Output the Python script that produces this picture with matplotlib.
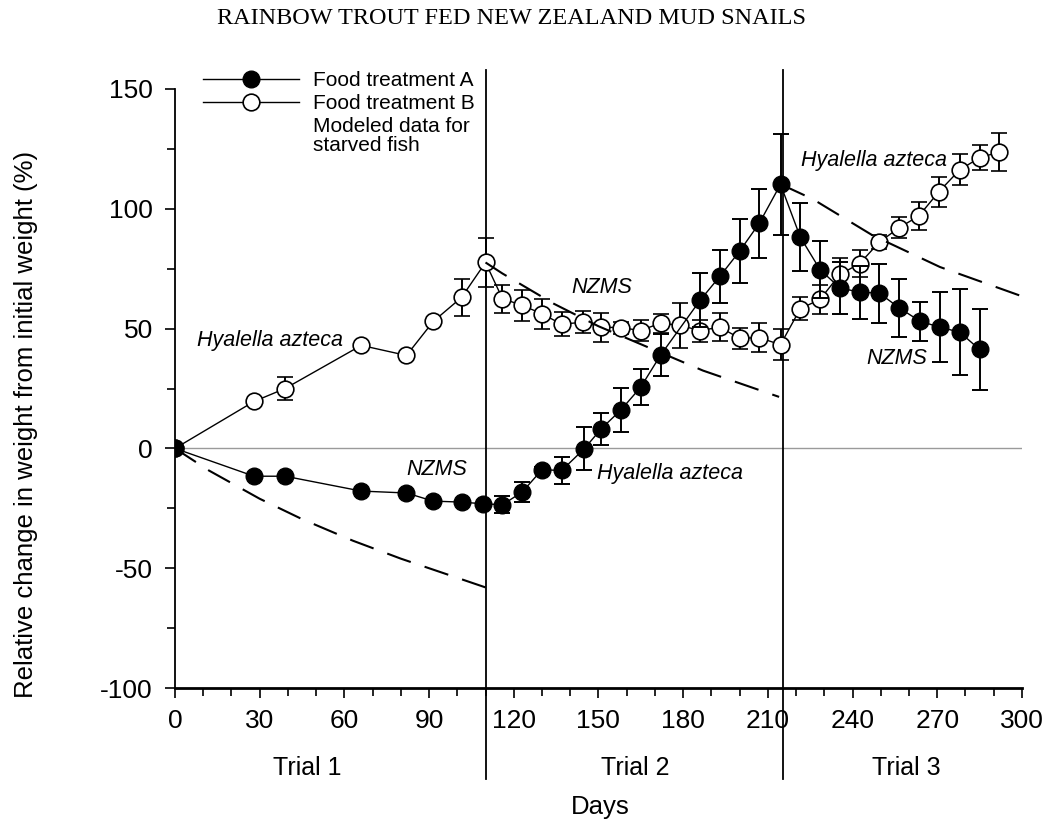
"""
Rainbow trout fed New Zealand mud snails - relative weight change
"""
import matplotlib.pyplot as plt
from matplotlib.lines import Line2D
from matplotlib.ticker import MultipleLocator
import matplotlib.transforms as mtransforms

plt.rcParams['font.family'] = ['Liberation Sans', 'DejaVu Sans']
plt.rcParams['axes.unicode_minus'] = False

# Food treatment A (filled circles)
days_a = [0, 28, 39, 66, 82, 91.5, 101.5, 109, 116, 123, 130, 137, 145, 151, 158, 165, 172,
          186, 193, 200, 207, 214.5, 221.5, 228.5, 235.5, 242.5, 249.5, 256.5, 264, 271, 278, 285]
weight_a = [0, -11.6, -11.6, -17.8, -18.6, -22, -22.4, -23.1, -23.5, -18.2, -8.9, -9.2, -0.1, 8.2,
            16.1, 25.6, 38.9, 61.8, 71.8, 82.3, 94, 110.2, 88.2, 74.6, 67, 65.2, 64.8, 58.7, 53,
            50.6, 48.5, 41.3]
err_a = [0, 0, 0, 0, 0, 0, 0, 0, 3.5, 4, 1, 5.8, 9, 6.6, 9.3, 7.6, 8.7,
         11.3, 11, 13.4, 14.4, 21, 14.3, 12, 11, 11, 12.3, 12, 8, 14.5, 18, 16.8]

# Food treatment B (open circles)
days_b = [0, 28, 39, 66, 82, 91.5, 101.5, 110, 116, 123, 130, 137, 144.5, 151, 158, 165, 172,
          179, 186, 193, 200, 207, 214.5, 221.5, 228.5, 235.5, 242.5, 249.5, 256.5, 263.5, 270.5,
          278, 285, 292]
weight_b = [0, 19.6, 25, 43, 38.8, 53, 63, 77.6, 62.5, 59.7, 56.2, 51.8, 52.7, 50.6, 50.4, 49.2,
            52.3, 51.3, 49.2, 50.6, 46, 46.2, 43.3, 58.3, 62.2, 72.6, 77.1, 86.1, 92.1, 97, 107,
            116.3, 121.3, 123.7]
err_b = [0, 0, 5, 0, 0, 0, 7.8, 10.3, 5.9, 6.6, 6.3, 5, 4.5, 6, 2.5, 4.4, 4,
         9.4, 4.6, 5.9, 4.4, 6.1, 6.5, 4.7, 6, 7, 5.6, 3, 4.4, 5.8, 6.3, 6.5, 5.3, 7.9]

# Modeled data for starved fish, one curve per trial
model1_days = [0, 12, 30, 45, 63, 80, 95, 110]
model1_weight = [0, -9.2, -21, -29.5, -38.5, -46, -52, -58]
model2_days = [110, 116, 134, 150, 166, 187, 214]
model2_weight = [77.6, 73, 60.5, 51, 43, 32.5, 21.5]
model3_days = [215, 226, 247, 271, 300]
model3_weight = [110, 104, 89, 75.7, 63.5]

trial_bounds = [110, 215.5]
trial_names = ['Trial 1', 'Trial 2', 'Trial 3']
trial_centers = [47, 163, 259]

# Figura
fig = plt.figure(figsize=(10.56, 8.24), dpi=100)
ax = fig.add_axes([0.1657, 0.165, 0.802, 0.727])

ax.axhline(0, color='#9a9a9a', lw=1, zorder=1)

ax.errorbar(days_b, weight_b, yerr=err_b, fmt='-o', color='black', mfc='white', mec='black',
            ms=12, lw=1, mew=1.2, elinewidth=1.4, capsize=5.5, capthick=1.4, zorder=3)
ax.errorbar(days_a, weight_a, yerr=err_a, fmt='-o', color='black', mfc='black', mec='black',
            ms=12, lw=1, elinewidth=1.4, capsize=5.5, capthick=1.4, zorder=4)

for d, w in [(model1_days, model1_weight), (model2_days, model2_weight), (model3_days, model3_weight)]:
    ax.plot(d, w, color='black', lw=1.5, linestyle=(0, (12, 7)), zorder=5)

# Lineas que separan los ensayos
for b in trial_bounds:
    ax.axvline(b, ymin=-0.152, ymax=1.032, color='black', lw=1.3, clip_on=False, zorder=2)

trans = mtransforms.blended_transform_factory(ax.transData, ax.transAxes)
for name, c in zip(trial_names, trial_centers):
    ax.text(c, -0.133, name, transform=trans, ha='center', va='center', fontsize=18)

# Etiquetas en cursiva
notes = [('Hyalella azteca', 33.6, 45), ('NZMS', 92.8, -8.8), ('NZMS', 151.3, 67),
         ('Hyalella azteca', 175.3, -10.5), ('Hyalella azteca', 247.6, 120),
         ('NZMS', 255.8, 37.5)]
for txt, x, y in notes:
    ax.text(x, y, txt, ha='center', va='center', fontsize=15.5, style='italic')

ax.set_xlim(0, 300)
ax.set_ylim(-100, 150)
ax.xaxis.set_major_locator(MultipleLocator(30))
ax.xaxis.set_minor_locator(MultipleLocator(10))
ax.yaxis.set_major_locator(MultipleLocator(50))
ax.yaxis.set_minor_locator(MultipleLocator(25))
ax.tick_params(which='major', length=7, width=1.2, labelsize=19)
ax.tick_params(which='minor', length=5.5, width=1.2)
ax.tick_params(axis='x', which='major', pad=8)
ax.tick_params(axis='y', which='major', pad=9)
ax.spines['top'].set_visible(False)
ax.spines['right'].set_visible(False)
ax.spines['left'].set_linewidth(1.3)
ax.spines['bottom'].set_linewidth(2)

ax.set_xlabel('Days', fontsize=18.5)
ax.xaxis.set_label_coords(0.502, -0.178)
ax.set_ylabel('Relative change in weight from initial weight (%)', fontsize=18.5)
ax.yaxis.set_label_coords(-0.162, 0.44)

handles = [Line2D([], [], color='black', lw=1, marker='o', ms=12, mfc='black'),
           Line2D([], [], color='black', lw=1, marker='o', ms=12, mfc='white', mew=1.2),
           Line2D([], [], linestyle='none')]
labels = ['Food treatment A', 'Food treatment B', 'Modeled data for\nstarved fish']
leg = fig.legend(handles, labels, loc='upper left', bbox_to_anchor=(203 / 1056, 1 - 71 / 824),
                 frameon=False, fontsize=15, handlelength=4.6, handletextpad=0.7,
                 labelspacing=0.2, borderpad=0, borderaxespad=0)
leg.get_texts()[2].set_linespacing(0.95)

fig.text(0.484, 1 - 19 / 824, 'RAINBOW TROUT FED NEW ZEALAND MUD SNAILS', ha='center',
         va='center', fontsize=17.5, family='Liberation Serif')

plt.savefig('out.png', dpi=100)
